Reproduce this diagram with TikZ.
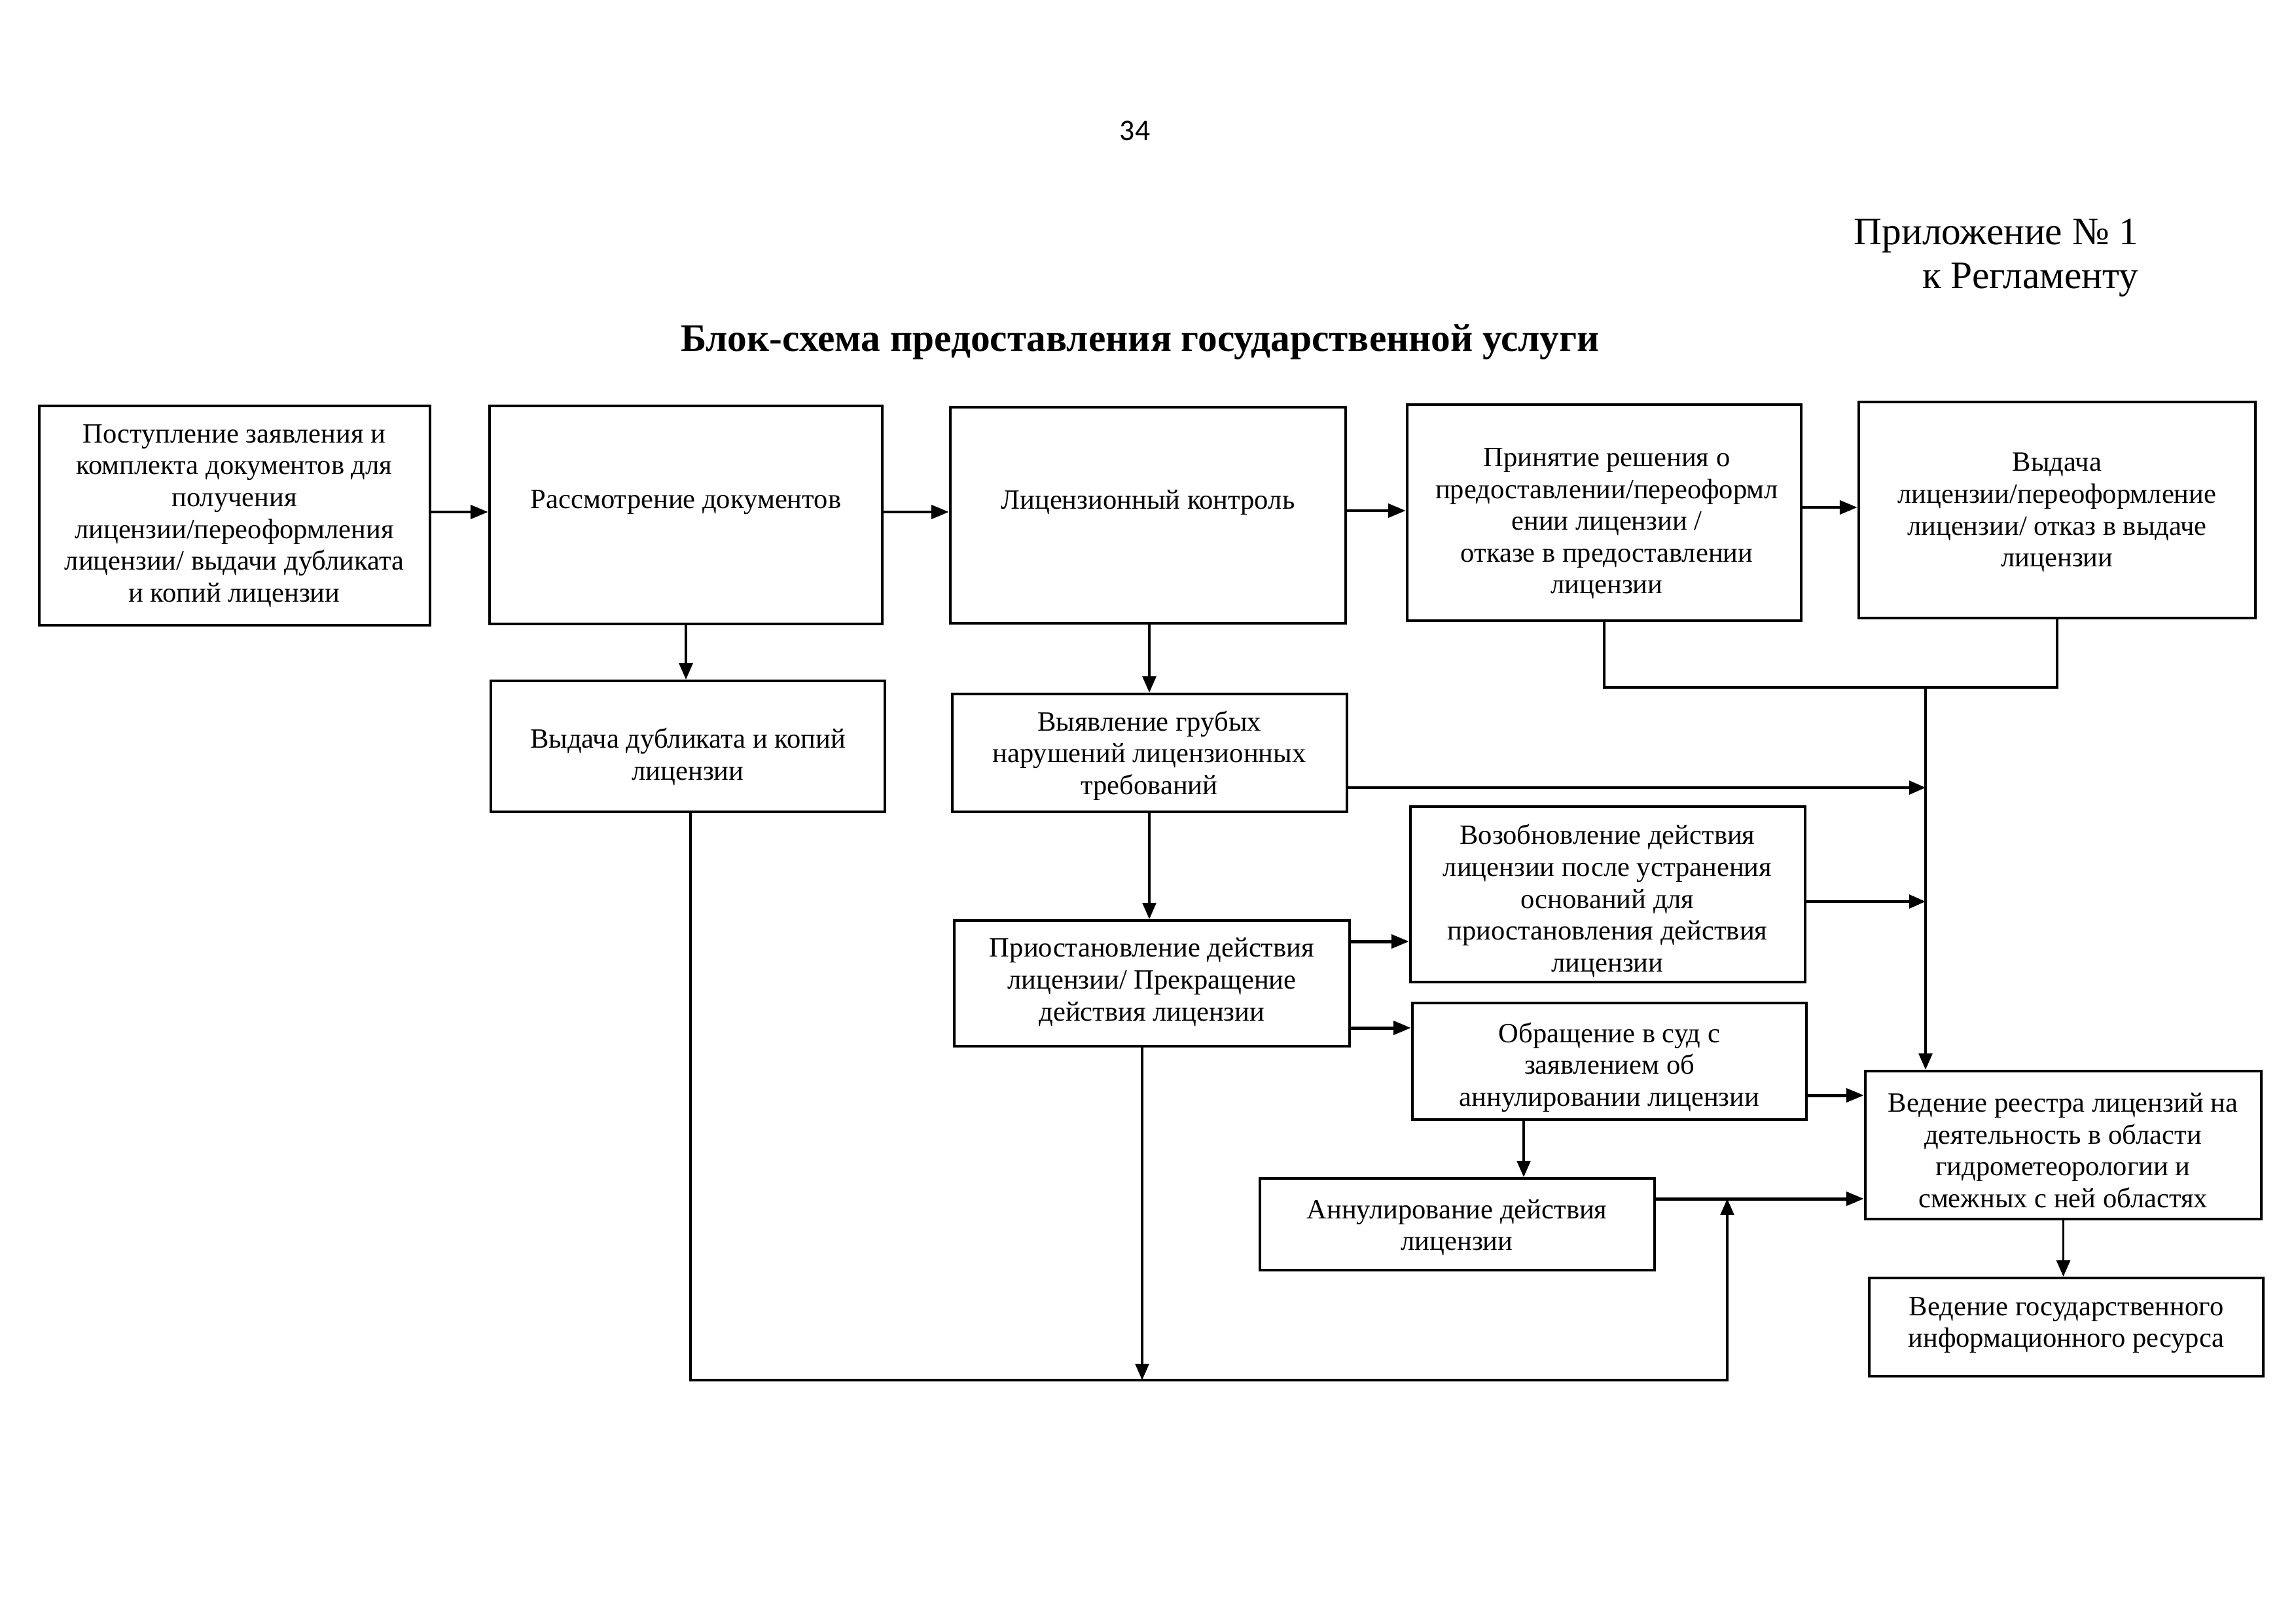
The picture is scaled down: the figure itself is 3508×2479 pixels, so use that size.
\documentclass[tikz,border=0pt]{standalone}
\usepackage{fontspec}
\setmainfont{Liberation Serif}
\newfontfamily\numfont{Carlito}
\usetikzlibrary{arrows.meta}
\newcommand\mkbox[5]{\node[box, minimum width={(#4-#2)*0.2409pt}, minimum height={(#5-#3)*0.2409pt}] (#1) at ({(#2+#4)/2},{(#3+#5)/2}) {};}
\tikzset{
  box/.style={draw, line width=1pt, inner sep=0pt},
  txt/.style={align=center, font=\fontsize{10.25}{11.7}\selectfont, inner sep=0pt},
  conn/.style={line width=0.85pt, -{Triangle[length=6pt,width=5pt]}},
  bconn/.style={line width=1.2pt, -{Triangle[length=6.5pt,width=5pt]}},
  plain/.style={line width=0.85pt}
}
\begin{document}
\begin{tikzpicture}[x=0.08466mm, y=-0.08466mm]
\useasboundingbox (0,0) rectangle (3508,2479);
% header
\node[font=\numfont\fontsize{11}{13}\selectfont] (pg) at (1734,200) {34};
\node[anchor=east, font=\fontsize{14.3}{16}\selectfont] (app1) at (3282,360) {Приложение № 1};
\node[anchor=east, font=\fontsize{14.3}{16}\selectfont] (app2) at (3282,427) {к Регламенту};
\node[font=\bfseries\fontsize{14.3}{16}\selectfont] (title) at (1742,522) {Блок-схема предоставления государственной услуги};
% boxes
\mkbox{b1}{60}{620}{657}{955}
\mkbox{b2}{748}{620}{1348}{953}
\mkbox{b3}{1452}{622}{2056}{952}
\mkbox{b4}{2150}{618}{2752}{948}
\mkbox{b5}{2840}{614}{3446}{944}
\mkbox{b6}{750}{1040}{1352}{1240}
\mkbox{b7}{1455}{1060}{2058}{1240}
\mkbox{b8}{1458}{1406}{2062}{1598}
\mkbox{b9}{2155}{1232}{2758}{1500}
\mkbox{b10}{2158}{1532}{2760}{1710}
\mkbox{b11}{2850}{1636}{3455}{1862}
\mkbox{b12}{1925}{1800}{2528}{1940}
\mkbox{b13}{2856}{1952}{3458}{2102}
% texts
\node[txt] (t1) at (358,788) {Поступление заявления и\\комплекта документов для\\получения\\лицензии/переоформления\\лицензии/ выдачи дубликата\\и копий лицензии};
\node[txt] (t2) at (1048,767) {Рассмотрение документов};
\node[txt] (t3) at (1754,767) {Лицензионный контроль};
\node[txt] (t4) at (2455,800) {Принятие решения о\\предоставлении/переоформл\\ении лицензии /\\отказе в предоставлении\\лицензии};
\node[txt] (t5) at (3143,783) {Выдача\\лицензии/переоформление\\лицензии/ отказ в выдаче\\лицензии};
\node[txt] (t6) at (1051,1156) {Выдача дубликата и копий\\лицензии};
\node[txt] (t7) at (1756,1154) {Выявление грубых\\нарушений лицензионных\\требований};
\node[txt] (t8) at (1760,1500) {Приостановление действия\\лицензии/ Прекращение\\действия лицензии};
\node[txt] (t9) at (2456,1376) {Возобновление действия\\лицензии после устранения\\оснований для\\приостановления действия\\лицензии};
\node[txt] (t10) at (2459,1630) {Обращение в суд с\\заявлением об\\аннулировании лицензии};
\node[txt] (t11) at (3152,1757) {Ведение реестра лицензий на\\деятельность в области\\гидрометеорологии и\\смежных с ней областях};
\node[txt] (t12) at (2226,1875) {Аннулирование действия\\лицензии};
\node[txt] (t13) at (3157,2024) {Ведение государственного\\информационного ресурса};
% helper coordinates
\coordinate (y12) at (0,782);
\coordinate (y34) at (0,780);
\coordinate (y45) at (0,775);
\coordinate (jy) at (0,1050);
\coordinate (j3) at (2942,1050);
\coordinate (y7) at (0,1203);
\coordinate (y9) at (0,1377);
\coordinate (y8a) at (0,1438);
\coordinate (y8b) at (0,1570);
\coordinate (y10) at (0,1673);
\coordinate (x10) at (2328,0);
\coordinate (ya) at (0,1831);
\coordinate (jb) at (2639,2108);
\coordinate (xs) at (1745,0);
\coordinate (x6) at (1055,0);
% connectors
\draw[bconn] (b1.east |- y12) -- (b2.west |- y12);
\draw[bconn] (b2.east |- y12) -- (b3.west |- y12);
\draw[bconn] (b3.east |- y34) -- (b4.west |- y34);
\draw[bconn] (b4.east |- y45) -- (b5.west |- y45);
\draw[conn] (b2.south) -- (b2.south |- b6.north);
\draw[conn] (b3.south -| t7) -- (b7.north -| t7);
\draw[plain] (b4.south) -- (b4.south |- jy) -- (b5.south |- jy) -- (b5.south);
\draw[conn] (j3) -- (j3 |- b11.north);
\draw[conn] (b7.east |- y7) -- (j3 |- y7);
\draw[conn] (b9.east |- y9) -- (j3 |- y9);
\draw[conn] (b7.south -| t7) -- (b8.north -| t7);
\draw[bconn] (b8.east |- y8a) -- (b9.west |- y8a);
\draw[bconn] (b8.east |- y8b) -- (b10.west |- y8b);
\draw[bconn] (b10.east |- y10) -- (b11.west |- y10);
\draw[conn] (x10 |- b10.south) -- (x10 |- b12.north);
\draw[bconn] (b12.east |- ya) -- (b11.west |- ya);
\draw[conn] (x6 |- b6.south) -- (x6 |- jb) -- (jb) -- (jb |- ya);
\draw[conn] (xs |- b8.south) -- (xs |- jb);
\draw[conn] (b11.south) -- (b11.south |- b13.north);
\end{tikzpicture}
\end{document}
